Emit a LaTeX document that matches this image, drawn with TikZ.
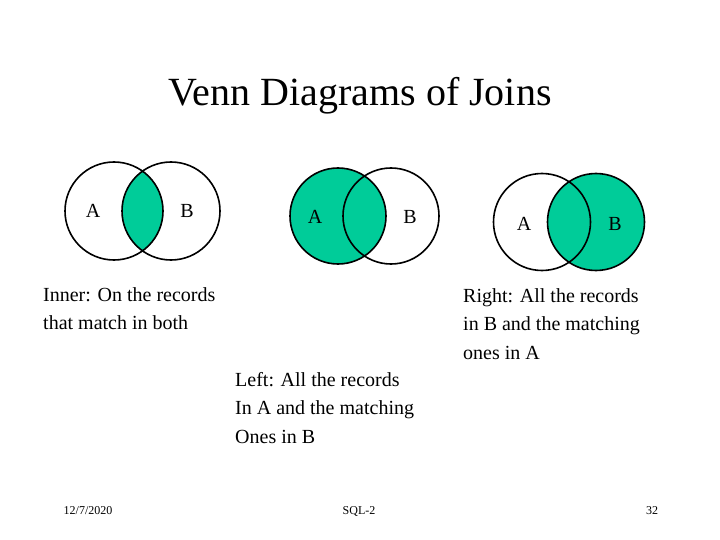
\documentclass[tikz,border=0pt]{standalone}
\usepackage{fontspec}
\setmainfont{Liberation Serif}
\definecolor{joingreen}{RGB}{0,204,153}
\begin{document}
\begin{tikzpicture}[x=1pt,y=-1pt,
  set/.style={line width=1.6pt},
  setlabel/.style={font=\fontsize{20}{20}\selectfont},
  note/.style={font=\fontsize{20}{28.5}\selectfont, align=left, anchor=north west, inner sep=0pt},
  foot/.style={font=\fontsize{12}{12}\selectfont}]
\useasboundingbox (0,0) rectangle (720,540);

%Title
\node[font=\fontsize{40}{40}\selectfont] (title) at (360,96) {Venn Diagrams of Joins};

%Inner join
\begin{scope}
  \clip (114,211) circle (49);
  \fill[joingreen] (171,211) circle (49);
\end{scope}
\draw[set] (114,211) circle (49) (171,211) circle (49);
\node[setlabel] (ia) at (93,211) {A};
\node[setlabel] (ib) at (187,211) {B};

%Left join
\fill[joingreen] (338,216) circle (48);
\draw[set] (338,216) circle (48) (391,216) circle (48);
\node[setlabel] (la) at (315,217) {A};
\node[setlabel] (lb) at (410,217) {B};

%Right join
\fill[joingreen] (596,222) circle (48.5);
\draw[set] (542,222) circle (48.5) (596,222) circle (48.5);
\node[setlabel] (ra) at (524,224) {A};
\node[setlabel] (rb) at (615,224) {B};

%Notes
\node[note] (inner) at (43,287) {Inner: On the records\\that match in both};
\node[note] (right) at (463,288) {Right: All the records\\in B and the matching\\ones in A};
\node[note] (left) at (235,372) {Left: All the records\\In A and the matching\\Ones in B};

%Footer
\node[foot] (date) at (88,511) {12/7/2020};
\node[foot] (course) at (359,511) {SQL-2};
\node[foot] (page) at (652,511) {32};
\end{tikzpicture}
\end{document}
